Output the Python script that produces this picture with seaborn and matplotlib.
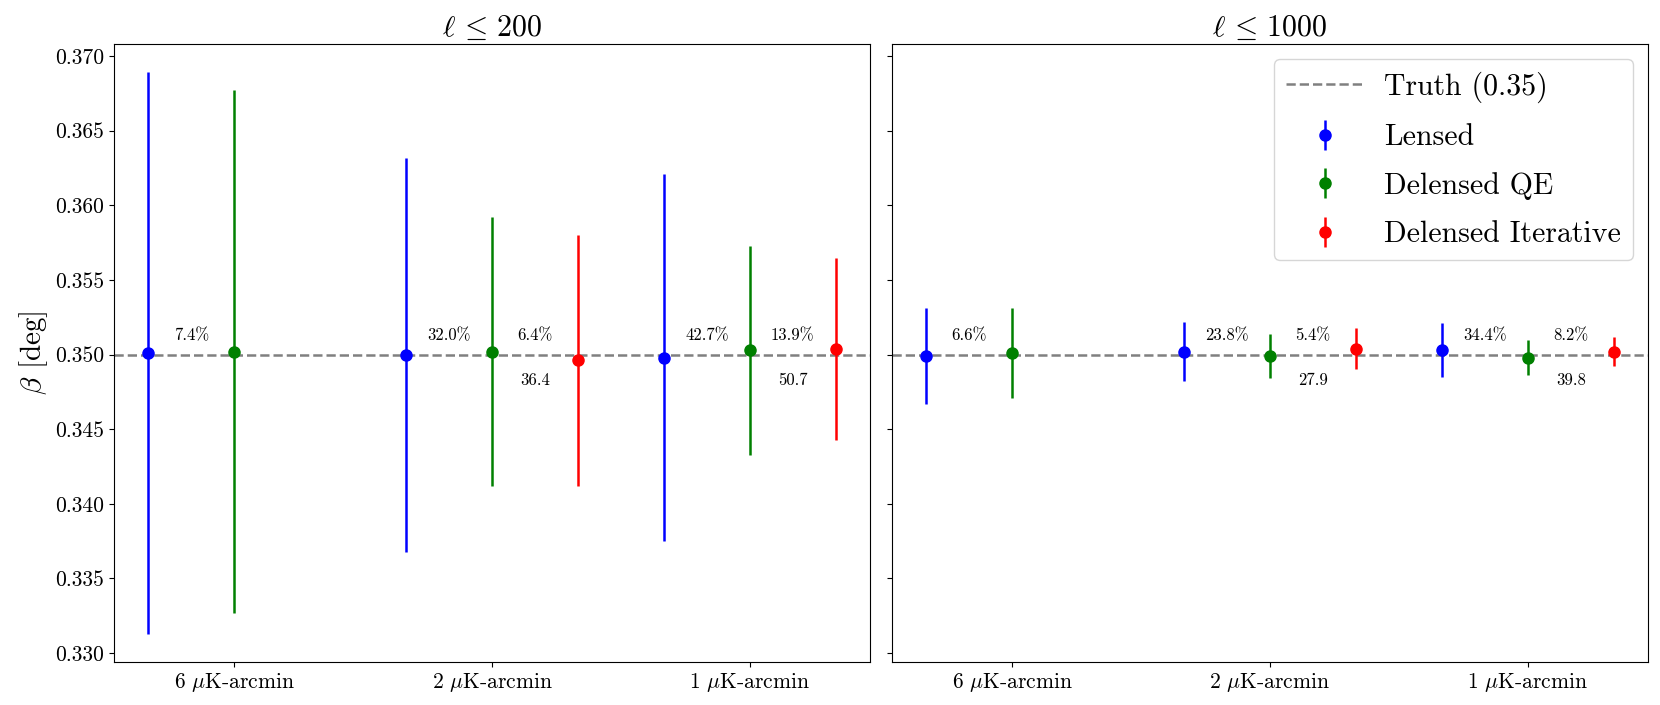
import numpy as np
import matplotlib
matplotlib.use("Agg")
import matplotlib.pyplot as plt
import seaborn as sns

# noise levels (x categories)
noise_labels = [r'6 $\mu$K-arcmin', r'2 $\mu$K-arcmin', r'1 $\mu$K-arcmin']
panel_titles = [r'$\ell\,\leq\,200$', r'$\ell\,\leq\,1000$']
truth = 0.35

# ell <= 200
lensed_200 = [0.3501, 0.3500, 0.3498]
lensed_200_err = [0.0188, 0.0132, 0.0123]
qe_200 = [0.3502, 0.3502, 0.3503]
qe_200_err = [0.0175, 0.0090, 0.0070]
iter_200 = [np.nan, 0.3496, 0.3504]
iter_200_err = [np.nan, 0.0084, 0.0061]

# ell <= 1000
lensed_1000 = [0.3499, 0.3502, 0.3503]
lensed_1000_err = [0.0032, 0.0020, 0.0018]
qe_1000 = [0.3501, 0.3499, 0.3498]
qe_1000_err = [0.0030, 0.0015, 0.0012]
iter_1000 = [np.nan, 0.3504, 0.3502]
iter_1000_err = [np.nan, 0.0014, 0.0010]

# improvement annotations
lensed_to_qe_200 = ['7.4%', '32.0%', '42.7%']
qe_to_iter_200 = ['', '6.4%', '13.9%']
lensed_to_iter_200 = ['', '36.4', '50.7']
lensed_to_qe_1000 = ['6.6%', '23.8%', '34.4%']
qe_to_iter_1000 = ['', '5.4%', '8.2%']
lensed_to_iter_1000 = ['', '27.9', '39.8']

sns.set_style("ticks", {"axes.edgecolor": "black", "xtick.color": "black",
                        "ytick.color": "black", "text.color": "black",
                        "axes.labelcolor": "black"})
plt.rcParams['font.family'] = ['cmr10', 'DejaVu Serif']
plt.rcParams['mathtext.fontset'] = 'cm'
plt.rcParams['axes.unicode_minus'] = False
plt.rcParams['axes.formatter.use_mathtext'] = True

panels = [
    (lensed_200, lensed_200_err, qe_200, qe_200_err, iter_200, iter_200_err,
     lensed_to_qe_200, qe_to_iter_200, lensed_to_iter_200),
    (lensed_1000, lensed_1000_err, qe_1000, qe_1000_err, iter_1000, iter_1000_err,
     lensed_to_qe_1000, qe_to_iter_1000, lensed_to_iter_1000),
]

fig, axes = plt.subplots(1, 2, figsize=(16.6, 7.05), dpi=100, sharey=True)
fig.subplots_adjust(left=0.0687, right=0.9928, top=0.937, bottom=0.0615, wspace=0.029)

x = np.arange(len(noise_labels))
offset = 1 / 3

for ax, title, p in zip(axes, panel_titles, panels):
    lens, lens_err, qe, qe_err, it, it_err, pct1, pct2, pct3 = p
    ax.axhline(truth, color='gray', ls='--', lw=1.8, label='Truth (0.35)', zorder=1)
    for vals, errs, dx, color, name in [(lens, lens_err, -offset, 'blue', 'Lensed'),
                                        (qe, qe_err, 0, 'green', 'Delensed QE'),
                                        (it, it_err, offset, 'red', 'Delensed Iterative')]:
        vals = np.array(vals)
        errs = np.array(errs)
        ok = ~np.isnan(vals)
        ax.errorbar(x[ok] + dx, vals[ok], yerr=errs[ok], fmt='o', color=color,
                    ms=8, lw=1.8, label=name, zorder=3)
    for i in range(len(x)):
        if pct1[i]:
            ax.text(x[i] - offset / 2, 0.3513, pct1[i], ha='center', va='center', fontsize=12)
        if pct2[i]:
            ax.text(x[i] + offset / 2, 0.3513, pct2[i], ha='center', va='center', fontsize=12)
        if pct3[i]:
            ax.text(x[i] + offset / 2, 0.3483, pct3[i], ha='center', va='center', fontsize=12)
    ax.set_xticks(x)
    ax.set_xticklabels(noise_labels, fontsize=15.5)
    ax.tick_params(axis='y', labelsize=15.5)
    ax.set_title(title, fontsize=21.5)

axes[0].set_ylabel(r'$\beta$ [deg]', fontsize=21)
axes[0].set_yticks([0.330, 0.335, 0.340, 0.345, 0.350, 0.355, 0.360, 0.365, 0.370])
axes[0].set_yticklabels(['0.330', '0.335', '0.340', '0.345', '0.350', '0.355',
                         '0.360', '0.365', '0.370'])
axes[1].legend(loc='upper right', fontsize=21.5, handlelength=2.6, labelspacing=0.7,
               handletextpad=0.7)

plt.savefig('out.png', dpi=100)
plt.close()
